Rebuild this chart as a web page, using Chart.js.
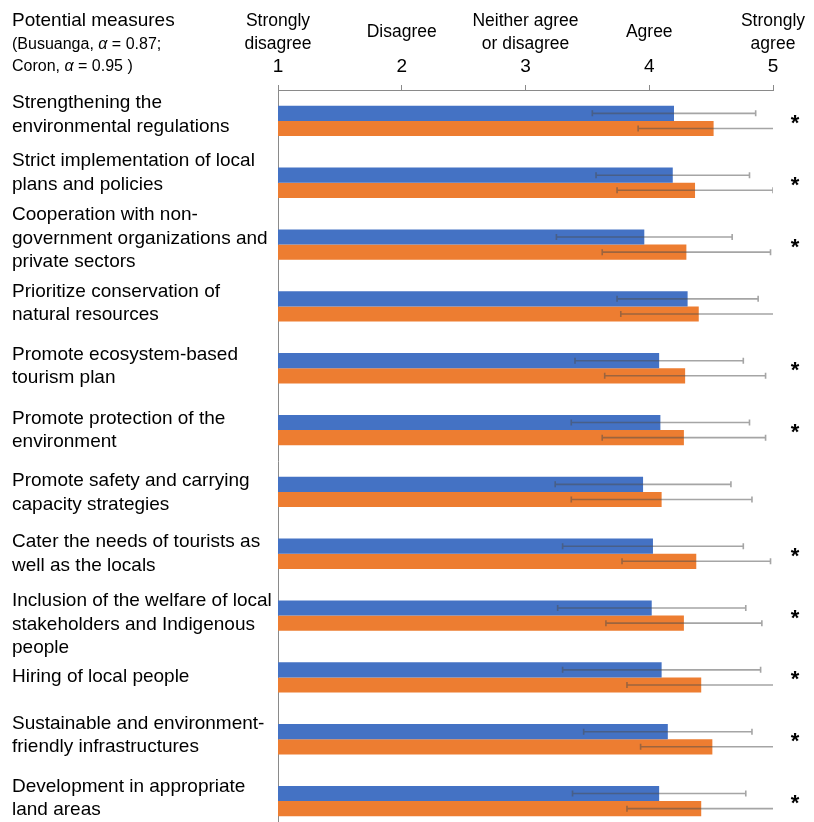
<!DOCTYPE html>
<html>
<head>
<meta charset="utf-8">
<script src="https://cdn.jsdelivr.net/npm/chart.js@4"></script>
<style>
  html, body { margin: 0; padding: 0; background: #fff; overflow: hidden; }
</style>
</head>
<body>
<canvas id="chart" width="814" height="840"></canvas>
<script>
// Medidas potenciales (etiquetas en varias líneas, como en el original)
const measures = [
    ['Strengthening the', 'environmental regulations'],
    ['Strict implementation of local', 'plans and policies'],
    ['Cooperation with non-', 'government organizations and', 'private sectors'],
    ['Prioritize conservation of', 'natural resources'],
    ['Promote ecosystem-based', 'tourism plan'],
    ['Promote protection of the', 'environment'],
    ['Promote safety and carrying', 'capacity strategies'],
    ['Cater the needs of tourists as', 'well as the locals'],
    ['Inclusion of the welfare of local', 'stakeholders and Indigenous', 'people'],
    ['Hiring of local people'],
    ['Sustainable and environment-', 'friendly infrastructures'],
    ['Development in appropriate', 'land areas']
];

const busuangaMean = [4.20, 4.19, 3.96, 4.31, 4.08, 4.09, 3.95, 4.03, 4.02, 4.10, 4.15, 4.08];
const busuangaSD   = [0.66, 0.62, 0.71, 0.57, 0.68, 0.72, 0.71, 0.73, 0.76, 0.80, 0.68, 0.70];
const coronMean    = [4.52, 4.37, 4.30, 4.40, 4.29, 4.28, 4.10, 4.38, 4.28, 4.42, 4.51, 4.42];
const coronSD      = [0.61, 0.63, 0.68, 0.63, 0.65, 0.66, 0.73, 0.60, 0.63, 0.60, 0.58, 0.60];
const significant  = [true, true, true, false, true, true, false, true, true, true, true, true];

const scaleValues = [1, 2, 3, 4, 5];
const scaleNames = [['Strongly', 'disagree'], ['Disagree'], ['Neither agree', 'or disagree'], ['Agree'], ['Strongly', 'agree']];

// los textos de la izquierda no están centrados exactamente en cada fila
const labelNudge = [-6, -10, -6, -3, -2, 0, 1, 0, 9, -1, -4, -3];

const FONT = "'Liberation Sans', Arial, sans-serif";

// Barras de error (media ± DE), recortadas al área del gráfico
const errorBars = {
    id: 'errorBars',
    afterDatasetsDraw(chart) {
        const { ctx, chartArea, scales: { x } } = chart;
        ctx.save();
        ctx.beginPath();
        ctx.rect(chartArea.left, chartArea.top, chartArea.width, chartArea.height);
        ctx.clip();
        ctx.strokeStyle = 'rgba(75, 75, 75, 0.5)';
        ctx.lineWidth = 1.6;
        chart.data.datasets.forEach((ds, i) => {
            chart.getDatasetMeta(i).data.forEach((bar, j) => {
                const lo = x.getPixelForValue(ds.data[j] - ds.sd[j]);
                const hi = x.getPixelForValue(ds.data[j] + ds.sd[j]);
                ctx.beginPath();
                ctx.moveTo(lo, bar.y); ctx.lineTo(hi, bar.y);
                ctx.moveTo(lo, bar.y - 3); ctx.lineTo(lo, bar.y + 3);
                ctx.moveTo(hi, bar.y - 3); ctx.lineTo(hi, bar.y + 3);
                ctx.stroke();
            });
        });
        ctx.restore();
    }
};

// Etiquetas de las medidas y asteriscos de significancia
const rowText = {
    id: 'rowText',
    afterDraw(chart) {
        const { ctx, chartArea, scales: { y } } = chart;
        ctx.save();
        ctx.fillStyle = '#000';
        ctx.textBaseline = 'middle';
        ctx.textAlign = 'left';
        ctx.font = `19px ${FONT}`;
        measures.forEach((lines, i) => {
            const cy = y.getPixelForValue(i) + labelNudge[i];
            const top = cy - (lines.length - 1) * 23.5 / 2;
            lines.forEach((l, k) => ctx.fillText(l, 12, top + k * 23.5));
        });

        ctx.textAlign = 'center';
        ctx.font = `bold 22px ${FONT}`;
        significant.forEach((s, i) => {
            if (s) ctx.fillText('*', chartArea.right + 22, y.getPixelForValue(i) + 3);
        });
        ctx.restore();
    }
};

// Encabezados: escala Likert y título de la columna izquierda
const headers = {
    id: 'headers',
    afterDraw(chart) {
        const { ctx, scales: { x } } = chart;
        ctx.save();
        ctx.fillStyle = '#000';
        ctx.textBaseline = 'middle';
        ctx.textAlign = 'center';
        ctx.font = `17.5px ${FONT}`;
        scaleNames.forEach((lines, i) => {
            const px = x.getPixelForValue(scaleValues[i]);
            if (lines.length === 1) ctx.fillText(lines[0], px, 32);
            else lines.forEach((l, k) => ctx.fillText(l, px, 21 + k * 23));
        });

        ctx.textAlign = 'left';
        ctx.font = `19px ${FONT}`;
        ctx.fillText('Potential measures', 12, 21);
        const parts = [
            [['(Busuanga, ', false], ['α', true], [' = 0.87;', false]],
            [['Coron, ', false], ['α', true], [' = 0.95 )', false]]
        ];
        parts.forEach((segs, k) => {
            let px = 12;
            segs.forEach(([t, it]) => {
                ctx.font = `${it ? 'italic ' : ''}16px ${FONT}`;
                ctx.fillText(t, px, 45 + k * 22);
                px += ctx.measureText(t).width;
            });
        });
        ctx.restore();
    }
};

new Chart(document.getElementById('chart'), {
    type: 'bar',
    data: {
        labels: measures,
        datasets: [
            { label: 'Busuanga', data: busuangaMean, sd: busuangaSD, backgroundColor: '#4472C4' },
            { label: 'Coron', data: coronMean, sd: coronSD, backgroundColor: '#ED7D31' }
        ]
    },
    options: {
        indexAxis: 'y',
        responsive: false,
        animation: false,
        categoryPercentage: 0.49,
        barPercentage: 1.0,
        layout: { padding: { left: 12, right: 41, top: 0, bottom: 8 } },
        scales: {
            x: {
                position: 'top',
                min: 1, max: 5,
                afterFit: s => { s.height = 90; },
                ticks: { stepSize: 1, padding: 7, color: '#000', font: { family: FONT, size: 19 } },
                grid: { drawOnChartArea: false, tickLength: 5, color: '#8a8a8a' },
                border: { color: '#8a8a8a', width: 1 }
            },
            y: {
                afterFit: s => { s.width = 266; s.paddingTop = 0; s.paddingBottom = 0; },
                ticks: { display: false },
                grid: { drawOnChartArea: false, drawTicks: false },
                border: { color: '#8a8a8a', width: 1 }
            }
        },
        plugins: { legend: { display: false }, tooltip: { enabled: false } }
    },
    plugins: [errorBars, rowText, headers]
});
</script>
</body>
</html>
